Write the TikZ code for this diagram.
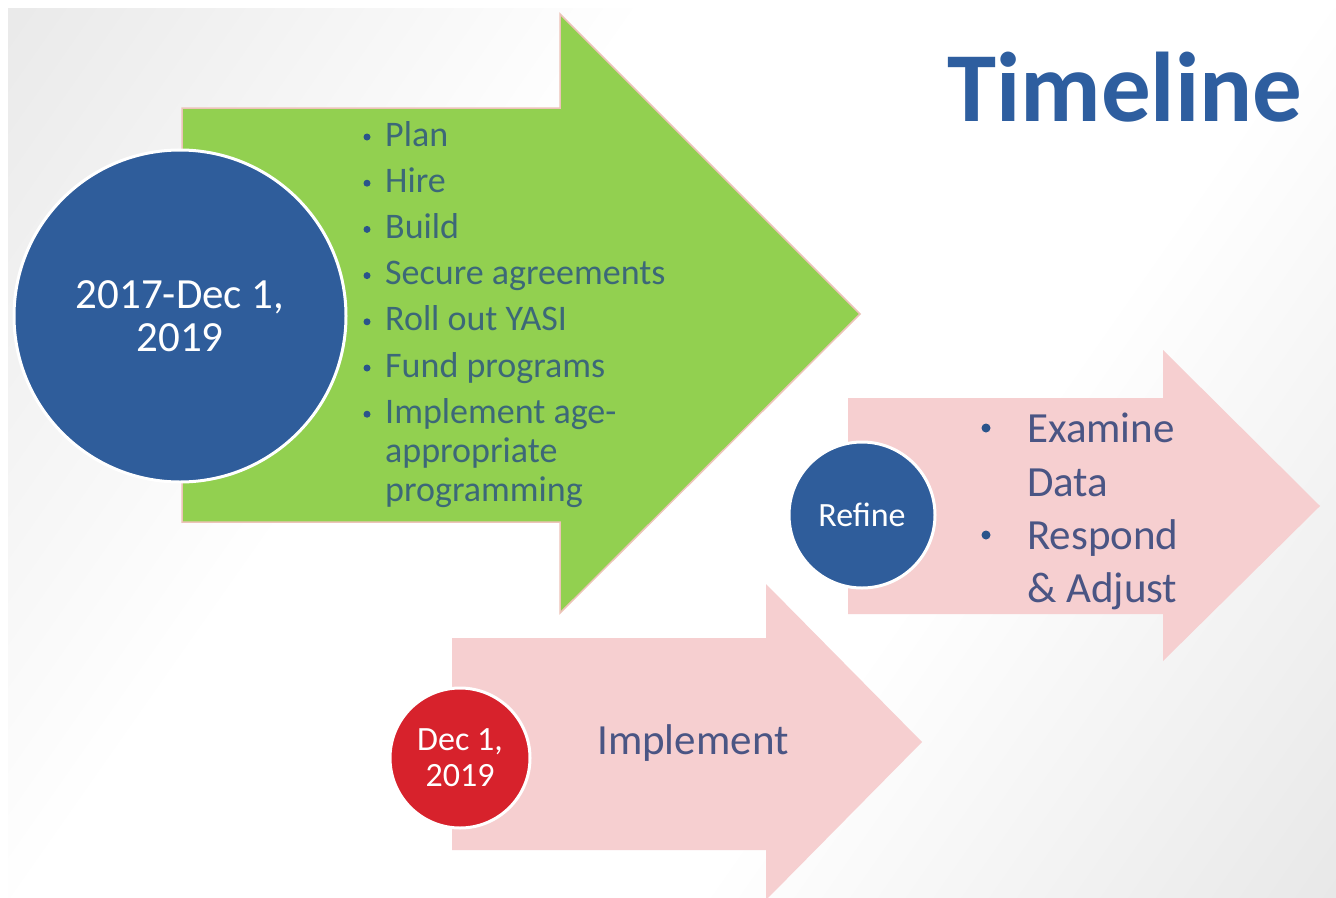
\documentclass[tikz,border=0pt]{standalone}
\usepackage{fontspec}
\setmainfont{Carlito}
\usetikzlibrary{positioning}

\definecolor{phasegreen}{HTML}{92D050}
\definecolor{phasepink}{HTML}{F6CFD0}
\definecolor{greenedge}{HTML}{EDC3B8}
\definecolor{dateblue}{HTML}{2F5D9B}
\definecolor{datered}{HTML}{D7222C}
\definecolor{titleblue}{HTML}{2E5E9F}
\definecolor{greentext}{HTML}{3C6878}
\definecolor{pinktext}{HTML}{4A5584}

% soft grey corners, white middle
\pgfdeclarehorizontalshading{slideshade}{100bp}{color(0bp)=(black!14); color(38bp)=(white); color(62bp)=(white); color(100bp)=(black!15)}

\tikzset{
  datecircle/.style={circle, draw=white, line width=3pt, text=white, align=center, inner sep=0pt},
  greenitem/.style={inner sep=0pt, anchor=base west, text=greentext, font=\fontsize{36}{42}\selectfont},
  pinkitem/.style={inner sep=0pt, anchor=base west, text=pinktext, font=\fontsize{43}{50}\selectfont},
  dot/.style={circle, fill=dateblue!90!black, inner sep=0pt, minimum size=#1},
}

\begin{document}
\begin{tikzpicture}[x=1pt, y=-1pt]
    \useasboundingbox (0,0) rectangle (1336,897);
    \fill[white] (0,0) rectangle (1336,897);
    \shade[shading=slideshade, shading angle=-35] (8,8) rectangle (1336,897);

    % Phase 1 arrow
    \filldraw[fill=phasegreen, draw=greenedge, line width=1.5pt]
        (182,108) -- (560,108) -- (560,14) -- (860,314) -- (560,613) -- (560,522) -- (182,522) -- cycle;

    % Refine arrow
    \fill[phasepink] (848,398) -- (1163,398) -- (1163,350) -- (1320,506) -- (1163,661) -- (1163,614) -- (848,614) -- cycle;

    % Implement arrow
    \fill[phasepink] (452,638) -- (766,638) -- (766,584) -- (922,742) -- (766,900) -- (766,850) -- (452,850) -- cycle;

    % Dates
    \node[datecircle, fill=dateblue, minimum size=332pt, font=\fontsize{43}{43}\selectfont] (plan) at (180,316) {2017-Dec 1,\\2019};
    \node[datecircle, fill=dateblue, minimum size=146pt, font=\fontsize{34}{36}\selectfont] (refine) at (862,515) {Refine};
    \node[datecircle, fill=datered, minimum size=140pt, font=\fontsize{34}{36}\selectfont] (golive) at (460,758) {Dec 1,\\2019};

    % Phase 1 tasks
    \foreach \txt [count=\i] in {Plan, Hire, Build, Secure agreements, Roll out YASI, Fund programs, Implement age-} {
        \node[greenitem] (task\i) at (385,{146+46.2*(\i-1)}) {\txt};
        \node[dot=7pt] at (367,{137+46.2*(\i-1)}) {};
    }
    \node[greenitem] (task7b) at (385,462) {appropriate};
    \node[greenitem] (task7c) at (385,501) {programming};

    % Refine tasks
    \node[pinkitem] (examine) at (1027,442) {Examine};
    \node[pinkitem] (data) at (1027,496) {Data};
    \node[pinkitem] (respond) at (1027,549) {Respond};
    \node[pinkitem] (adjust) at (1027,602) {\& Adjust};
    \node[dot=9pt] at (986,428) {};
    \node[dot=9pt] at (986,535) {};

    \node[pinkitem] (implement) at (597,754) {Implement};

    % Title
    \node[inner sep=0pt, anchor=base west, text=titleblue, font=\bfseries\fontsize{99}{99}\selectfont] (title) at (947,121) {Timeline};
\end{tikzpicture}
\end{document}
